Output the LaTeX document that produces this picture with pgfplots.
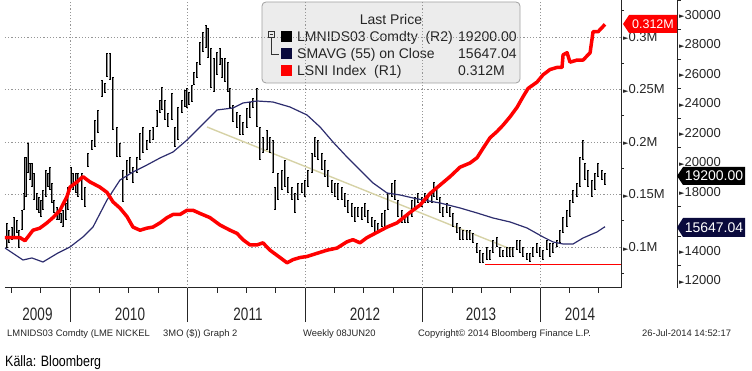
\documentclass[border=0pt]{standalone}
\usepackage{fontspec}
\setmainfont{Liberation Sans}
\newfontfamily\djv{DejaVu Sans}
\usepackage{pgfplots}
\usepackage{pgfplotstable}
\pgfplotsset{compat=1.18}
\definecolor{lsred}{RGB}{255,0,0}
\definecolor{smav}{RGB}{45,45,110}
\definecolor{tagnavy}{RGB}{10,10,60}
\definecolor{trendc}{RGB}{214,210,166}
\definecolor{gridc}{RGB}{150,150,150}
\definecolor{legfill}{RGB}{236,236,236}
\definecolor{legdraw}{RGB}{160,160,160}
\definecolor{barfill}{RGB}{140,140,140}
\newcommand\tri{{\djv\fontsize{7}{7}\selectfont\raisebox{0.5pt}{►}}}
\newcommand\tickfont{\fontsize{13}{13}\selectfont}
\newcommand\legfont{\fontsize{14}{14}\selectfont}

% LSNI Index (R1), millions
\pgfplotstableread{
x v
2009.447 0.109
2009.574 0.109
2009.617 0.106
2009.685 0.116
2009.744 0.118
2009.804 0.123
2009.855 0.128
2009.915 0.135
2009.974 0.148
2010.000 0.157
2010.060 0.162
2010.110 0.167
2010.170 0.162
2010.255 0.157
2010.315 0.152
2010.366 0.143
2010.426 0.137
2010.485 0.129
2010.536 0.119
2010.596 0.116
2010.655 0.118
2010.706 0.119
2010.766 0.123
2010.826 0.128
2010.877 0.131
2010.936 0.131
2010.996 0.135
2011.047 0.135
2011.106 0.132
2011.191 0.128
2011.276 0.121
2011.362 0.116
2011.421 0.113
2011.472 0.107
2011.532 0.102
2011.591 0.102
2011.642 0.104
2011.702 0.097
2011.787 0.090
2011.847 0.085
2011.898 0.088
2011.957 0.090
2012.017 0.091
2012.102 0.094
2012.187 0.097
2012.272 0.099
2012.357 0.105
2012.408 0.107
2012.468 0.104
2012.528 0.109
2012.613 0.114
2012.698 0.119
2012.783 0.123
2012.894 0.133
2012.979 0.140
2013.064 0.151
2013.149 0.159
2013.234 0.167
2013.319 0.176
2013.404 0.180
2013.464 0.185
2013.515 0.194
2013.574 0.204
2013.634 0.210
2013.685 0.216
2013.745 0.224
2013.804 0.233
2013.855 0.243
2013.898 0.251
2013.974 0.257
2014.026 0.264
2014.085 0.269
2014.145 0.271
2014.187 0.271
2014.196 0.283
2014.230 0.285
2014.255 0.276
2014.315 0.278
2014.366 0.278
2014.426 0.285
2014.451 0.305
2014.494 0.305
2014.553 0.312
}\lsni

% SMAVG (55) on Close (R2)
\pgfplotstableread{
x v
2009.447 14203
2009.600 13389
2009.676 13525
2009.770 13253
2009.898 13864
2010.000 14270
2010.110 14948
2010.196 15626
2010.315 17457
2010.426 18813
2010.536 19355
2010.655 19830
2010.766 20305
2010.877 20711
2010.996 21525
2011.106 22406
2011.251 23559
2011.387 23695
2011.472 24034
2011.591 24169
2011.727 24101
2011.872 23762
2012.017 23220
2012.128 22406
2012.238 21389
2012.357 20372
2012.468 19491
2012.579 18610
2012.698 17932
2012.809 17796
2012.919 17593
2013.004 17457
2013.149 17253
2013.319 16915
2013.464 16576
2013.600 16237
2013.745 15966
2013.889 15559
2014.026 14948
2014.111 14609
2014.196 14474
2014.281 14474
2014.366 14880
2014.485 15288
2014.553 15647
}\smavg

% LMNIDS03 weekly high / low (R2)
\pgfplotstableread{
x hi lo
2009.464 15900 14200
2009.481 15420 14540
2009.506 15630 14750
2009.523 16300 14950
2009.549 16100 15220
2009.566 15420 14200
2009.591 16780 15420
2009.608 17930 16780
2009.621 20370 17660
2009.642 21320 19290
2009.659 19970 18810
2009.676 19970 18340
2009.693 19290 17460
2009.719 17930 16780
2009.736 17660 16580
2009.753 17460 16300
2009.770 18140 16780
2009.796 19490 17660
2009.813 19290 18340
2009.830 19690 18140
2009.847 18610 17250
2009.864 17460 16580
2009.889 16980 16100
2009.906 16780 16100
2009.923 16580 15900
2009.940 16780 15630
2009.966 17250 16100
2009.983 18340 16780
2010.008 19690 18340
2010.025 19290 18140
2010.051 19290 17930
2010.068 19290 17660
2010.102 19290 17460
2010.128 18340 16980
2010.153 20640 19690
2010.187 21530 20850
2010.213 22880 21050
2010.238 23560 22000
2010.272 25590 24440
2010.298 25390 24710
2010.315 27420 25800
2010.340 27420 25590
2010.366 25800 22200
2010.400 22410 20370
2010.426 21320 20370
2010.451 19490 17320
2010.485 20170 18810
2010.511 20370 19290
2010.536 19690 18610
2010.570 20370 19290
2010.596 22000 20170
2010.621 22410 20640
2010.655 21530 20850
2010.681 22200 21320
2010.706 22410 21530
2010.740 23560 22410
2010.766 24240 23360
2010.783 25120 23560
2010.809 24240 22880
2010.834 23360 22410
2010.868 24710 22880
2010.894 22410 21050
2010.919 23760 21530
2010.953 24240 23360
2010.979 24920 23760
2010.996 25050 23700
2011.013 24780 23900
2011.038 25250 24100
2011.055 26140 25250
2011.081 26810 25730
2011.106 28170 26610
2011.132 28850 27490
2011.157 29320 27760
2011.174 29120 27090
2011.200 27760 25050
2011.225 27090 24780
2011.251 27490 25930
2011.276 27760 26610
2011.293 27090 25730
2011.319 27090 25460
2011.345 26810 24780
2011.362 25050 23700
2011.387 23900 22750
2011.421 23420 22340
2011.447 23220 21860
2011.472 22750 21860
2011.506 23700 22340
2011.532 24100 23020
2011.557 24370 23700
2011.591 25050 22410
2011.617 22410 20170
2011.642 21730 20640
2011.676 22200 20850
2011.702 21730 20640
2011.727 21530 19290
2011.744 18340 16780
2011.770 19290 17460
2011.804 19490 18140
2011.830 20170 18340
2011.855 19020 17930
2011.889 18340 17460
2011.915 17930 16580
2011.940 18610 17460
2011.974 18610 17930
2012.000 18810 17660
2012.025 19490 18340
2012.059 20640 19290
2012.085 21730 20370
2012.111 21530 20170
2012.145 20640 19490
2012.170 20170 19020
2012.196 19490 18340
2012.230 18810 17930
2012.255 18610 17660
2012.281 18610 17460
2012.315 18340 17460
2012.340 17930 16980
2012.366 17460 16580
2012.400 17250 16300
2012.425 16980 15970
2012.451 16980 16300
2012.485 16980 16100
2012.511 17250 16300
2012.536 16780 15900
2012.570 16300 15630
2012.596 16100 15220
2012.621 15900 15220
2012.655 16580 15630
2012.681 16780 15630
2012.706 17930 16780
2012.740 18610 17660
2012.766 18810 17460
2012.791 17460 16300
2012.825 16780 15900
2012.851 16300 15900
2012.876 16580 15900
2012.910 17460 16300
2012.936 17660 16780
2012.962 17930 17250
2012.996 17660 16980
2013.021 17930 17250
2013.047 17660 17250
2013.081 17930 17250
2013.098 18680 17660
2013.123 18340 17460
2013.149 17660 16580
2013.174 16980 16300
2013.208 17250 16580
2013.234 16980 16300
2013.260 16580 15630
2013.294 15900 15220
2013.319 15630 14750
2013.345 15420 14750
2013.379 15420 14750
2013.404 15420 14750
2013.430 15220 14540
2013.464 14540 13860
2013.489 14070 13190
2013.515 13860 13190
2013.549 14270 13390
2013.574 14070 13390
2013.600 14750 13860
2013.634 14950 14270
2013.660 14270 13590
2013.685 14070 13590
2013.719 14270 13590
2013.745 14270 13590
2013.770 14270 13590
2013.804 14750 14070
2013.830 14750 13860
2013.855 14270 13590
2013.889 13860 13390
2013.915 13860 13250
2013.940 14270 13590
2013.974 14540 13860
2014.000 14270 13590
2014.026 14070 13390
2014.060 14750 14070
2014.085 14540 13590
2014.111 14540 13860
2014.145 14750 14270
2014.170 15420 14540
2014.196 16300 15220
2014.230 16780 15630
2014.255 17460 16300
2014.281 18140 17250
2014.315 18610 17660
2014.340 20370 18340
2014.366 21530 20170
2014.383 19970 18810
2014.409 19490 18340
2014.443 18810 17660
2014.468 19290 18140
2014.494 19970 19020
2014.528 19490 18810
2014.553 19290 18470
}\nickel

\begin{document}
\begin{tikzpicture}[x=1pt,y=1pt]
\path[use as bounding box] (0pt,0pt) rectangle (752pt,371pt);

% legend box (beneath the grid)
\draw[legdraw, fill=legfill, rounded corners=4pt, line width=0.8pt] (262pt,288pt) rectangle (520pt,369pt);
\node[anchor=base, font=\legfont, inner sep=0pt, text=black!85] at (391pt,346pt) {Last Price};
\node[anchor=base west, font=\legfont, inner sep=0pt, text=black!85] at (297pt,329pt) {LMNIDS03 Comdty\ \ (R2)};
\node[anchor=base west, font=\legfont, inner sep=0pt, text=black!85] at (297pt,312pt) {SMAVG (55) on Close};
\node[anchor=base west, font=\legfont, inner sep=0pt, text=black!85] at (297pt,295pt) {LSNI Index\ \ (R1)};
\node[anchor=base west, font=\legfont, inner sep=0pt, text=black!85] at (458pt,329pt) {19200.00};
\node[anchor=base west, font=\legfont, inner sep=0pt, text=black!85] at (458pt,312pt) {15647.04};
\node[anchor=base west, font=\legfont, inner sep=0pt, text=black!85] at (458pt,295pt) {0.312M};

% A: R1 frame, grid, x axis
\begin{axis}[
  at={(5pt,83pt)}, anchor=south west, scale only axis,
  width=616pt, height=288pt,
  xmin=2009.447, xmax=2014.689, ymin=0.0610, ymax=0.3352,
  axis x line*=bottom, axis y line*=right,
  axis line style={line width=1pt, black!85},
  tick align=outside,
  major tick length=5pt, minor tick length=3pt,
  xtick={2009.5,2009.75,2010.25,2010.5,2010.75,2011.25,2011.5,2011.75,2012.25,2012.5,2012.75,2013.25,2013.5,2013.75,2014.25,2014.5},
  xticklabels={},
  x tick style={black!85, line width=0.7pt},
  extra x ticks={2010,2011,2012,2013,2014},
  extra x tick labels={},
  extra x tick style={grid=major, major tick length=34pt, tick style={black!55, line width=0.7pt}},
  ytick={0.1,0.15,0.2,0.25,0.3},
  yticklabels={\tri0.1M,\tri0.15M,\tri0.2M,\tri0.25M,\tri0.3M},
  minor ytick={0.075,0.125,0.175,0.225,0.275,0.325},
  major y tick style={draw=none},
  minor y tick style={black!85, line width=0.7pt},
  ymajorgrids,
  major grid style={gridc, line width=0.6pt, dash pattern=on 1.2pt off 2pt},
  yticklabel style={font=\tickfont, text=black!85, anchor=west, inner xsep=0pt, xshift=-3pt},
]
\addplot[draw=none] coordinates {(2010,0.2)};
\end{axis}

% legend keys (over the grid)
\draw[black!80, line width=0.6pt, fill=legfill] (268pt,333.5pt) rectangle (274pt,339.5pt);
\draw[black!80, line width=0.6pt] (269.5pt,336.5pt) -- (272.5pt,336.5pt);
\draw[black!80, line width=0.6pt] (271pt,333.5pt) -- (271pt,317pt) -- (279pt,317pt);
\fill[black] (281pt,328.5pt) rectangle (292pt,339.5pt);
\fill[tagnavy] (281pt,311.5pt) rectangle (292pt,322.5pt);
\fill[lsred] (281pt,294.5pt) rectangle (292pt,305.5pt);

% B: nickel data (R2)
\begin{axis}[
  at={(5pt,83pt)}, anchor=south west, scale only axis,
  width=616pt, height=288pt,
  xmin=2009.447, xmax=2014.689, ymin=11490, ymax=31017,
  hide axis,
]
\addplot[trendc, line width=1.4pt] coordinates {(2011.166,22406) (2013.770,14067)};
\addplot[lsred, line width=0.9pt] coordinates {(2013.532,13120) (2014.689,13120)};
\addplot[draw=none, mark=none,
  error bars/.cd, y dir=both, y explicit, error mark=none,
  error bar style={draw=black, line width=2.4pt}]
  table[x=x, y expr={(\thisrow{hi}+\thisrow{lo})/2},
        y error plus expr={(\thisrow{hi}-\thisrow{lo})/2},
        y error minus expr={(\thisrow{hi}-\thisrow{lo})/2}] {\nickel};
\addplot[draw=none, mark=none,
  error bars/.cd, y dir=both, y explicit, error mark=none,
  error bar style={draw=barfill, line width=0.9pt}]
  table[x=x, y expr={(\thisrow{hi}+\thisrow{lo})/2},
        y error plus expr={(\thisrow{hi}-\thisrow{lo})/2-70},
        y error minus expr={(\thisrow{hi}-\thisrow{lo})/2-70}] {\nickel};
\addplot[smav, line width=1.2pt] table[x=x, y=v] {\smavg};
\end{axis}

% C: LSNI line (R1)
\begin{axis}[
  at={(5pt,83pt)}, anchor=south west, scale only axis,
  width=616pt, height=288pt,
  xmin=2009.447, xmax=2014.689, ymin=0.0610, ymax=0.3352,
  hide axis,
]
\addplot[lsred, line width=3.5pt, line join=round] table[x=x, y=v] {\lsni};
\end{axis}

% D: R2 scale
\begin{axis}[
  at={(677pt,83pt)}, anchor=south east, scale only axis,
  width=10pt, height=288pt,
  xmin=0, xmax=1, ymin=11490, ymax=31017,
  hide x axis, axis y line*=right,
  axis line style={line width=1pt, black!85},
  tick align=outside,
  major tick length=5pt, minor tick length=3.5pt,
  ytick={12000,14000,18000,20000,22000,24000,26000,28000,30000},
  yticklabels={\tri12000,\tri14000,\tri18000,\tri20000,\tri22000,\tri24000,\tri26000,\tri28000,\tri30000},
  minor ytick={13000,15000,17000,19000,21000,23000,25000,27000,29000,31000},
  major y tick style={draw=none},
  minor y tick style={black!85, line width=0.7pt},
  yticklabel style={font=\tickfont, text=black!85, anchor=west, inner xsep=0pt, xshift=-3pt},
]
\addplot[draw=none] coordinates {(0.5,20000)};
\end{axis}

% value tags
\fill[lsred] (623pt,347pt) -- (629pt,356pt) -- (677pt,356pt) -- (677pt,338pt) -- (629pt,338pt) -- cycle;
\node[font=\fontsize{12.5}{12.5}\selectfont, text=white, inner sep=0pt] at (653pt,347pt) {0.312M};
\fill[black] (677pt,195pt) -- (683pt,204pt) -- (745pt,204pt) -- (745pt,186pt) -- (683pt,186pt) -- cycle;
\node[font=\legfont, text=white, inner sep=0pt] at (714pt,195pt) {19200.00};
\fill[tagnavy] (677pt,143.5pt) -- (683pt,153pt) -- (745pt,153pt) -- (745pt,134pt) -- (683pt,134pt) -- cycle;
\node[font=\legfont, text=white, inner sep=0pt] at (714pt,143.5pt) {15647.04};

% year labels
\foreach \xx/\yy in {37.5/2009,130/2010,248/2011,365/2012,481/2013,580/2014}
  \node[anchor=base, inner sep=0pt, text=black!85] at (\xx pt,50pt) {\scalebox{0.75}[1]{\fontsize{18}{18}\selectfont \yy}};

% footer
\node[anchor=base west, inner sep=0pt, font=\fontsize{9.4}{9.4}\selectfont, text=black!85] at (7pt,34.5pt) {LMNIDS03 Comdty (LME NICKEL};
\node[anchor=base west, inner sep=0pt, font=\fontsize{9.4}{9.4}\selectfont, text=black!85] at (163pt,34.5pt) {3MO (\$)) Graph 2};
\node[anchor=base west, inner sep=0pt, font=\fontsize{9.4}{9.4}\selectfont, text=black!85] at (303pt,34.5pt) {Weekly 08JUN20};
\node[anchor=base west, inner sep=0pt, font=\fontsize{9.4}{9.4}\selectfont, text=black!85] at (418pt,34.5pt) {Copyright© 2014 Bloomberg Finance L.P.};
\node[anchor=base west, inner sep=0pt, font=\fontsize{9.4}{9.4}\selectfont, text=black!85] at (642pt,34.5pt) {26-Jul-2014 14:52:17};
\node[anchor=base west, inner sep=0pt] at (5pt,4.5pt) {\scalebox{0.83}[1]{\fontsize{15}{15}\selectfont Källa: Bloomberg}};
\end{tikzpicture}
\end{document}
